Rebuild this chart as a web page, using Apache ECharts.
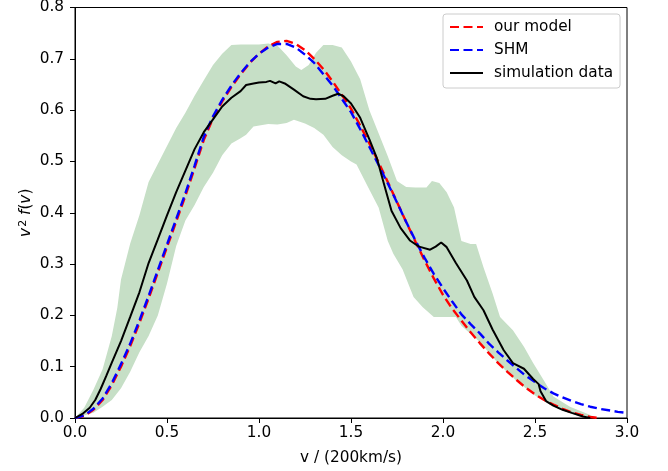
<!DOCTYPE html>
<html>
<head>
<meta charset="utf-8">
<script src="https://cdn.jsdelivr.net/npm/echarts@6/dist/echarts.min.js"></script>
<style>
html,body{margin:0;padding:0;background:#fff;}
#chart{width:668px;height:471px;}
</style>
</head>
<body>
<div id="chart"></div>
<script>
// x ticks / y ticks
const xTicks = [0.0, 0.5, 1.0, 1.5, 2.0, 2.5, 3.0];
const yTicks = [0.0, 0.1, 0.2, 0.3, 0.4, 0.5, 0.6, 0.7, 0.8];
const legendNames = ['our model', 'SHM', 'simulation data'];

// our model (red dashed)
const ourModel = [[0,0],[0.05,0.004],[0.1,0.016],[0.15,0.035],[0.2,0.064],[0.25,0.1],[0.3,0.14],[0.35,0.185],[0.4,0.233],[0.45,0.283],[0.5,0.333],[0.55,0.383],[0.6,0.433],[0.65,0.487],[0.7,0.542],[0.75,0.584],[0.8,0.617],[0.85,0.645],[0.9,0.67],[0.95,0.692],[1.0,0.71],[1.05,0.724],[1.1,0.733],[1.15,0.735],[1.2,0.729],[1.25,0.717],[1.3,0.7],[1.35,0.68],[1.4,0.656],[1.45,0.63],[1.5,0.603],[1.55,0.57],[1.6,0.535],[1.65,0.498],[1.7,0.46],[1.75,0.421],[1.8,0.382],[1.85,0.344],[1.9,0.307],[1.95,0.272],[2.0,0.24],[2.05,0.213],[2.1,0.19],[2.15,0.167],[2.2,0.146],[2.25,0.126],[2.3,0.107],[2.35,0.09],[2.4,0.074],[2.45,0.059],[2.5,0.046],[2.55,0.035],[2.6,0.026],[2.65,0.018],[2.7,0.011],[2.75,0.006],[2.8,0.002],[2.85,0]];

// SHM (blue dashed)
const shm = [[0,0],[0.05,0.005],[0.1,0.018],[0.15,0.038],[0.2,0.068],[0.25,0.105],[0.3,0.145],[0.35,0.19],[0.4,0.238],[0.45,0.288],[0.5,0.338],[0.55,0.388],[0.6,0.438],[0.65,0.492],[0.7,0.548],[0.75,0.588],[0.8,0.62],[0.85,0.648],[0.9,0.672],[0.95,0.693],[1.0,0.71],[1.05,0.722],[1.1,0.729],[1.15,0.729],[1.2,0.722],[1.25,0.708],[1.3,0.692],[1.35,0.67],[1.4,0.648],[1.45,0.622],[1.5,0.596],[1.55,0.563],[1.6,0.528],[1.65,0.493],[1.7,0.457],[1.75,0.42],[1.8,0.382],[1.85,0.346],[1.9,0.312],[1.95,0.281],[2.0,0.253],[2.05,0.227],[2.1,0.202],[2.15,0.183],[2.2,0.165],[2.25,0.145],[2.3,0.128],[2.35,0.112],[2.4,0.097],[2.45,0.082],[2.5,0.07],[2.55,0.058],[2.6,0.048],[2.65,0.04],[2.7,0.033],[2.75,0.027],[2.8,0.022],[2.85,0.018],[2.9,0.015],[2.95,0.012],[3.0,0.01]];

// simulation data (black solid)
const simData = [[0,0],[0.04,0.008],[0.08,0.02],[0.11,0.035],[0.14,0.057],[0.17,0.082],[0.2,0.108],[0.25,0.15],[0.3,0.197],[0.35,0.245],[0.4,0.302],[0.45,0.348],[0.5,0.395],[0.55,0.44],[0.6,0.482],[0.65,0.524],[0.7,0.557],[0.75,0.582],[0.8,0.607],[0.85,0.624],[0.9,0.637],[0.93,0.649],[0.97,0.652],[1.0,0.654],[1.04,0.655],[1.06,0.657],[1.09,0.652],[1.11,0.656],[1.14,0.652],[1.19,0.64],[1.24,0.627],[1.28,0.622],[1.31,0.621],[1.36,0.622],[1.4,0.628],[1.43,0.632],[1.46,0.627],[1.5,0.613],[1.55,0.585],[1.6,0.543],[1.64,0.507],[1.68,0.455],[1.72,0.404],[1.77,0.37],[1.82,0.346],[1.87,0.334],[1.93,0.328],[1.96,0.334],[1.99,0.342],[2.02,0.333],[2.07,0.302],[2.13,0.268],[2.17,0.236],[2.22,0.21],[2.27,0.172],[2.33,0.132],[2.38,0.107],[2.44,0.096],[2.49,0.076],[2.52,0.066],[2.53,0.052],[2.56,0.033],[2.6,0.024],[2.65,0.016],[2.7,0.01],[2.76,0.003],[2.8,0]];

// simulation spread band: upper and lower edges
const bandUpper = [[0,0],[0.05,0.02],[0.1,0.055],[0.15,0.095],[0.2,0.16],[0.23,0.215],[0.25,0.27],[0.3,0.34],[0.35,0.395],[0.4,0.46],[0.45,0.495],[0.5,0.53],[0.55,0.565],[0.6,0.595],[0.65,0.628],[0.7,0.658],[0.75,0.688],[0.8,0.71],[0.85,0.727],[0.9,0.728],[0.95,0.728],[1.0,0.728],[1.05,0.73],[1.1,0.726],[1.15,0.707],[1.2,0.685],[1.23,0.678],[1.27,0.688],[1.31,0.712],[1.35,0.727],[1.4,0.727],[1.45,0.722],[1.5,0.695],[1.55,0.66],[1.6,0.6],[1.65,0.555],[1.7,0.51],[1.75,0.462],[1.8,0.45],[1.85,0.449],[1.91,0.449],[1.94,0.462],[1.98,0.458],[2.02,0.44],[2.06,0.41],[2.1,0.345],[2.15,0.339],[2.18,0.339],[2.22,0.294],[2.27,0.242],[2.31,0.197],[2.38,0.171],[2.44,0.139],[2.49,0.107],[2.55,0.072],[2.6,0.042],[2.69,0.022],[2.8,0.006],[2.84,0]];
const bandLower = [[0,0],[0.1,0.01],[0.15,0.022],[0.2,0.035],[0.25,0.058],[0.3,0.09],[0.35,0.128],[0.4,0.16],[0.45,0.2],[0.5,0.262],[0.55,0.335],[0.6,0.385],[0.65,0.415],[0.7,0.45],[0.75,0.478],[0.8,0.512],[0.85,0.535],[0.9,0.545],[0.93,0.552],[0.97,0.568],[1.05,0.573],[1.1,0.572],[1.15,0.575],[1.19,0.581],[1.25,0.574],[1.3,0.565],[1.35,0.552],[1.4,0.528],[1.45,0.512],[1.5,0.5],[1.53,0.494],[1.6,0.445],[1.65,0.41],[1.7,0.345],[1.73,0.32],[1.78,0.29],[1.84,0.236],[1.89,0.216],[1.95,0.197],[2.07,0.197],[2.1,0.18],[2.2,0.148],[2.3,0.106],[2.4,0.072],[2.5,0.044],[2.6,0.022],[2.7,0.008],[2.8,0.002],[2.84,0]];

const FONT = 'DejaVu Sans';
const FS = 15.3;
const chart = echarts.init(document.getElementById('chart'), null, {renderer: 'canvas'});
const bandPoly = bandUpper.concat(bandLower.slice().reverse());

function axisCommon(margin) {
  return {
    axisLine: {show: true, lineStyle: {color: '#000', width: 1}},
    axisTick: {show: true, inside: false, length: 5, lineStyle: {color: '#000', width: 1}},
    splitLine: {show: false},
    axisLabel: {color: '#000', fontSize: FS, fontFamily: FONT, margin: margin, formatter: v => v.toFixed(1)}
  };
}

chart.setOption({
  animation: false,
  backgroundColor: '#fff',
  grid: {left: 75, right: 41, top: 6, bottom: 53, show: true, borderColor: '#000', borderWidth: 1, backgroundColor: 'transparent'},
  xAxis: Object.assign({}, axisCommon(8), {
    type: 'value', min: xTicks[0], max: xTicks[xTicks.length - 1], interval: 0.5,
    name: 'v / (200km/s)', nameLocation: 'middle', nameGap: 33, nameMoveOverlap: false,
    nameTextStyle: {color: '#000', fontSize: FS, fontFamily: FONT}
  }),
  yAxis: Object.assign({}, axisCommon(11), {
    type: 'value', min: yTicks[0], max: yTicks[yTicks.length - 1], interval: 0.1,
    name: '{i|v}{s|2}{n| }{i|f}{n|(}{i|v}{n|)}', nameLocation: 'middle', nameGap: 40, nameRotate: 90, nameMoveOverlap: false,
    nameTextStyle: {color: '#000', fontSize: FS, fontFamily: FONT,
      rich: {
        i: {fontStyle: 'italic', fontSize: FS, fontFamily: FONT, color: '#000'},
        n: {fontSize: FS, fontFamily: FONT, color: '#000'},
        s: {fontSize: 11, fontFamily: FONT, color: '#000', verticalAlign: 'top', padding: [0, 0, 6, 1]}
      }}
  }),
  legend: {
    data: legendNames,
    orient: 'vertical', left: 443, top: 14,
    padding: [5, 7, 7, 6], itemGap: 7, itemWidth: 33, itemHeight: 16,
    itemStyle: {opacity: 0},
    borderColor: '#cccccc', borderWidth: 1, borderRadius: 3, backgroundColor: 'rgba(255,255,255,0.8)',
    textStyle: {color: '#000', fontSize: FS, fontFamily: FONT, lineHeight: 16, padding: [0, 0, 0, 6]}
  },
  series: [
    {
      type: 'custom', silent: true, z: 1, clip: true,
      data: [[0, 0]],
      renderItem: function (params, api) {
        const pts = bandPoly.map(p => api.coord(p));
        return {type: 'polygon', shape: {points: pts}, style: {fill: 'rgb(198,223,198)', stroke: null}};
      }
    },
    {name: legendNames[0], type: 'line', data: ourModel, symbol: 'none', showSymbol: false, z: 3,
      color: '#ff0000', lineStyle: {color: '#ff0000', width: 2.4, type: [9, 4.5]}},
    {name: legendNames[1], type: 'line', data: shm, symbol: 'none', showSymbol: false, z: 4,
      color: '#0000ff', lineStyle: {color: '#0000ff', width: 2.4, type: [9, 4.5]}},
    {name: legendNames[2], type: 'line', data: simData, symbol: 'none', showSymbol: false, z: 5,
      color: '#000000', lineStyle: {color: '#000000', width: 2}}
  ]
});
</script>
</body>
</html>
